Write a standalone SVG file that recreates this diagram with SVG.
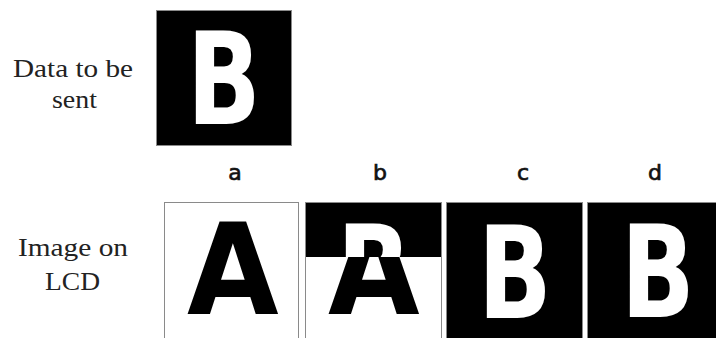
<svg xmlns="http://www.w3.org/2000/svg" width="716" height="338" viewBox="0 0 716 338">
  <style>
    .lbl { font-family: "Liberation Serif", "Times New Roman", serif; font-size: 25px; fill: #222; text-anchor: start; }
    .tag { font-family: "DejaVu Sans", Verdana, sans-serif; font-size: 22px; fill: #111; stroke: #111; stroke-width: 0.7; text-anchor: middle; }
    .big { font-family: "DejaVu Sans", Verdana, sans-serif; font-weight: bold; }
    .frame { stroke: #8a8a8a; stroke-width: 1; }
  </style>
  <defs>
    <clipPath id="clipTop"><rect x="306" y="202" width="135" height="55"/></clipPath>
    <clipPath id="clipBot"><rect x="306" y="257" width="135" height="81"/></clipPath>
  </defs>

  <g id="label-data">
    <text class="lbl" x="13" y="77" textLength="120" lengthAdjust="spacingAndGlyphs">Data to be</text>
    <text class="lbl" x="52" y="108" textLength="45" lengthAdjust="spacingAndGlyphs">sent</text>
  </g>
  <g id="label-lcd">
    <text class="lbl" x="18" y="256" textLength="110" lengthAdjust="spacingAndGlyphs">Image on</text>
    <text class="lbl" x="45" y="290" textLength="55" lengthAdjust="spacingAndGlyphs">LCD</text>
  </g>

  <g id="data-box">
    <rect class="frame" x="156.5" y="10.5" width="135" height="135" fill="#000"/>
    <text class="big" font-size="129" fill="#fff" transform="translate(187,124) scale(0.75,1)">B</text>
  </g>

  <g id="tags">
    <text class="tag" x="235" y="180">a</text>
    <text class="tag" x="380" y="180">b</text>
    <text class="tag" x="523" y="180">c</text>
    <text class="tag" x="655" y="180">d</text>
  </g>

  <g id="panel-a">
    <rect class="frame" x="164.5" y="202.5" width="134" height="140" fill="#fff"/>
    <text class="big" font-size="126" fill="#000" transform="translate(187,314) scale(0.94,1)">A</text>
  </g>

  <g id="panel-b">
    <g clip-path="url(#clipTop)">
      <rect x="306" y="202" width="135" height="55" fill="#000"/>
      <text class="big" font-size="129" fill="#fff" transform="translate(337,317) scale(0.75,1)">B</text>
    </g>
    <g clip-path="url(#clipBot)">
      <rect x="306" y="257" width="135" height="81" fill="#fff"/>
      <text class="big" font-size="126" fill="#000" transform="translate(328,314) scale(0.94,1)">A</text>
    </g>
    <rect class="frame" x="305.5" y="202.5" width="136" height="140" fill="none"/>
  </g>

  <g id="panel-c">
    <rect class="frame" x="446.5" y="202.5" width="136" height="140" fill="#000"/>
    <text class="big" font-size="129" fill="#fff" transform="translate(478,318) scale(0.75,1)">B</text>
  </g>

  <g id="panel-d">
    <rect class="frame" x="587.5" y="202.5" width="140" height="140" fill="#000"/>
    <text class="big" font-size="129" fill="#fff" transform="translate(621,317) scale(0.75,1)">B</text>
  </g>
</svg>
